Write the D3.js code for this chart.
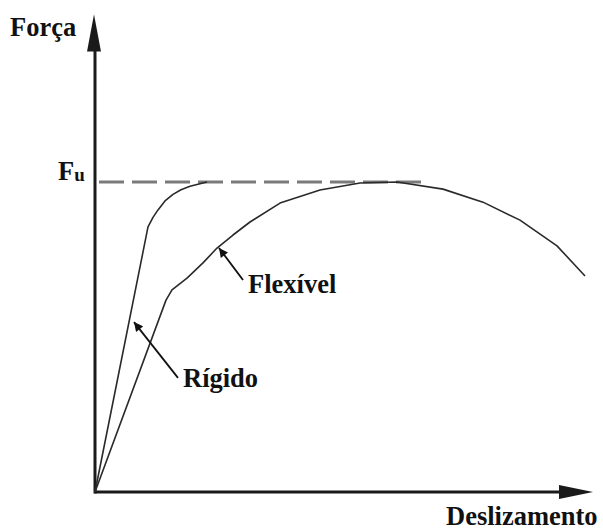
<!DOCTYPE html>
<html>
<head>
<meta charset="utf-8">
<script src="https://cdn.jsdelivr.net/npm/d3@7/dist/d3.min.js"></script>
<style>
  html, body { margin: 0; padding: 0; background: #fff; }
  svg { display: block; }
  .lbl { font-family: "Liberation Serif", "Times New Roman", serif; font-weight: bold; fill: #111; }
</style>
</head>
<body>
<svg id="chart" width="603" height="531"></svg>
<script>
// Force–slip curves for rigid and flexible connectors (arbitrary units, Fu = 100)
const flexSlip  = [0, 14.2, 15.4, 18.4, 21.6, 24.4, 27.6, 31.0, 37.0, 45.0, 53.0, 60.4, 69.6, 77.6, 85.0, 92.4, 98.0];
const flexForce = [0, 61.9, 65.2, 69.0, 73.9, 78.7, 82.9, 87.1, 93.2, 97.4, 99.7, 100, 97.7, 93.5, 87.7, 79.4, 69.7];
const rigSlip   = [0, 10.6, 11.6, 12.6, 14.0, 15.6, 17.2, 19.0, 22.4];
const rigForce  = [0, 85.5, 88.6, 91.0, 93.9, 96.0, 97.5, 98.6, 100];
const ultimateForce = 100;
const dashEndSlip = 66.4;
const axisEnd = { slip: 99.6, force: 154 };
const axisTitles = { x: "Deslizamento", y: "Força" };
const yTickLabel = { main: "F", sub: "u" };
const curveLabels = [
  { name: "Flexível", tip: [24.8, 78.7], tail: [29.6, 68.4] },
  { name: "Rígido",   tip: [7.8, 54.8],  tail: [16.6, 36.8] }
];

const svg = d3.select("#chart");
const x = d3.scaleLinear().domain([0, 100]).range([95, 595]);
const y = d3.scaleLinear().domain([0, 100]).range([492, 182]);

const axisColor = "#1a1a1a";

// axis lines with long filled arrowheads
const xAxisG = svg.append("g").attr("transform", `translate(0,${y(0)})`)
  .call(d3.axisBottom(d3.scaleLinear().domain([0, axisEnd.slip]).range([x(0) - 1, x(axisEnd.slip) - 30]))
    .tickValues([]).tickSizeOuter(0));
xAxisG.select(".domain").attr("stroke", axisColor).attr("stroke-width", 3).attr("transform", "translate(0,-0.5)");

const yAxisG = svg.append("g").attr("transform", `translate(${x(0) - 1},0)`)
  .call(d3.axisLeft(d3.scaleLinear().domain([0, axisEnd.force]).range([y(0) + 1, y(axisEnd.force) + 34]))
    .tickValues([]).tickSizeOuter(0));
yAxisG.select(".domain").attr("stroke", axisColor).attr("stroke-width", 3).attr("transform", "translate(0.5,0)");

const xt = x(axisEnd.slip), yt = y(axisEnd.force);
svg.append("path")
  .attr("d", `M${xt},${y(0)} L${xt - 34},${y(0) - 7} L${xt - 34},${y(0) + 7} Z`)
  .attr("fill", axisColor);
svg.append("path")
  .attr("d", `M${x(0) - 1},${yt} L${x(0) - 8},${yt + 37} L${x(0) + 6},${yt + 37} Z`)
  .attr("fill", axisColor);

// ultimate load reference line
svg.append("line")
  .attr("x1", x(0) + 4).attr("x2", x(dashEndSlip))
  .attr("y1", y(ultimateForce)).attr("y2", y(ultimateForce))
  .attr("stroke", "#7a7a7a").attr("stroke-width", 3)
  .attr("stroke-dasharray", "25,8");

// curves
const line = d3.line().x(d => x(d[0])).y(d => y(d[1])).curve(d3.curveLinear);
const curveStyle = sel => sel.attr("fill", "none").attr("stroke", "#2a2a2a").attr("stroke-width", 1.6).attr("stroke-linejoin", "round");
svg.append("path").datum(d3.zip(flexSlip, flexForce)).attr("d", line).call(curveStyle);
svg.append("path").datum(d3.zip(rigSlip, rigForce)).attr("d", line).call(curveStyle);

// pointer arrows to the curves
svg.append("defs").append("marker")
  .attr("id", "ptr").attr("viewBox", "0 0 10 10").attr("refX", 10).attr("refY", 5)
  .attr("markerWidth", 11).attr("markerHeight", 9).attr("markerUnits", "userSpaceOnUse")
  .attr("orient", "auto")
  .append("path").attr("d", "M0,0 L10,5 L0,10 Z").attr("fill", "#111");

curveLabels.forEach(c => {
  svg.append("line")
    .attr("x1", x(c.tail[0])).attr("y1", y(c.tail[1]))
    .attr("x2", x(c.tip[0])).attr("y2", y(c.tip[1]))
    .attr("stroke", "#111").attr("stroke-width", 1.8)
    .attr("marker-end", "url(#ptr)");
});

const lbl = (t, px, py) => svg.append("text").attr("class", "lbl").attr("x", px).attr("y", py)
  .attr("font-size", 26.5).text(t);

lbl(curveLabels[0].name, x(curveLabels[0].tail[0]) + 5, y(curveLabels[0].tail[1]) + 13);
lbl(curveLabels[1].name, x(curveLabels[1].tail[0]) + 5, y(curveLabels[1].tail[1]) + 9);

// axis titles
lbl(axisTitles.y, 10, 36);
lbl(axisTitles.x, 446, 525);

// Fu tick label
const fu = svg.append("text").attr("class", "lbl").attr("x", 58).attr("y", y(ultimateForce) - 2).attr("font-size", 26.5);
fu.append("tspan").text(yTickLabel.main);
fu.append("tspan").attr("font-size", 19).attr("dy", 1).text(yTickLabel.sub);
</script>
</body>
</html>
